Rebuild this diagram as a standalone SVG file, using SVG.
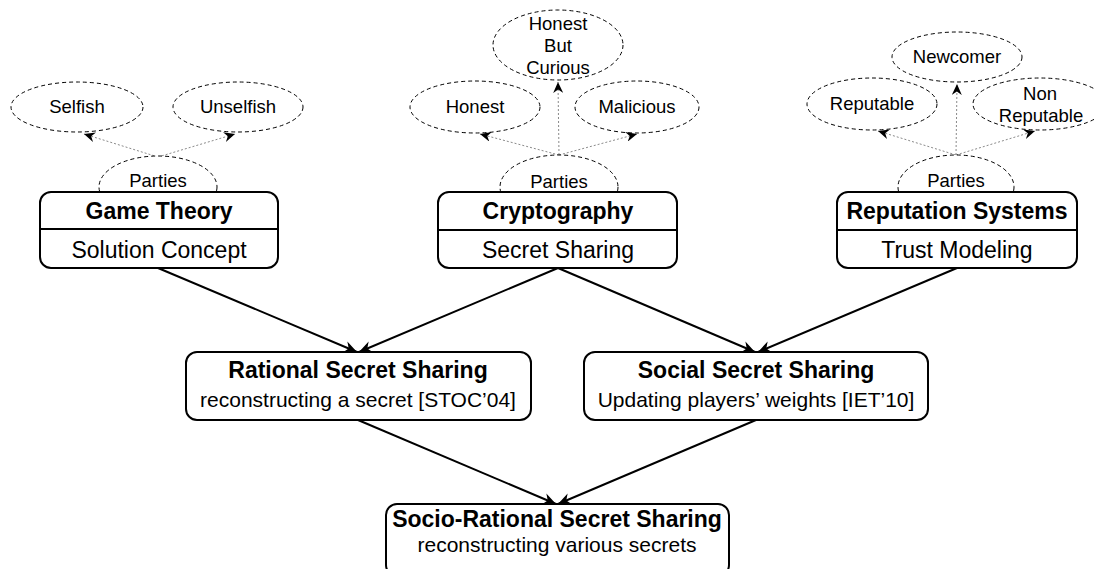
<svg xmlns="http://www.w3.org/2000/svg" width="1094" height="569" viewBox="0 0 1094 569">
<style>
text{font-family:"Liberation Sans",Arial,sans-serif;fill:#000;text-anchor:middle}
.el{fill:#fff;stroke:#000;stroke-width:1;stroke-dasharray:4,3}
.box{fill:#fff;stroke:#000;stroke-width:2}
.div{stroke:#000;stroke-width:2}
.t{font-size:23px;font-weight:bold}
.s{font-size:21px}
.s2{font-size:23px}
.e{font-size:18.5px}
.dot{stroke:#8a8a8a;stroke-width:1;stroke-dasharray:2,2;fill:none;marker-end:url(#sa)}
.arr{stroke:#000;stroke-width:2;fill:none;marker-end:url(#la)}
</style>
<defs>
<marker id="sa" markerUnits="userSpaceOnUse" markerWidth="12" markerHeight="10" refX="11" refY="5" orient="auto"><path d="M0,0 L11,5 L0,10 L3.5,5 z" fill="#000"/></marker>
<marker id="la" markerUnits="userSpaceOnUse" markerWidth="14" markerHeight="12" refX="13" refY="6" orient="auto"><path d="M0,0 L13,6 L0,12 L4,6 z" fill="#000"/></marker>
</defs>
<g id="n-selfish"><ellipse class="el" cx="77" cy="107" rx="66" ry="25"/><text class="e" x="77" y="113">Selfish</text></g>
<g id="n-unselfish"><ellipse class="el" cx="238" cy="107" rx="65" ry="25"/><text class="e" x="238" y="113">Unselfish</text></g>
<g id="n-honest"><ellipse class="el" cx="475" cy="107" rx="65" ry="26"/><text class="e" x="475" y="113">Honest</text></g>
<g id="n-hbc"><ellipse class="el" cx="558" cy="45" rx="65" ry="35"/><text class="e" x="558" y="30">Honest</text><text class="e" x="558" y="52">But</text><text class="e" x="558" y="74">Curious</text></g>
<g id="n-malicious"><ellipse class="el" cx="637" cy="107" rx="62" ry="26"/><text class="e" x="637" y="113">Malicious</text></g>
<g id="n-reputable"><ellipse class="el" cx="872" cy="104" rx="65" ry="26"/><text class="e" x="872" y="110">Reputable</text></g>
<g id="n-newcomer"><ellipse class="el" cx="957" cy="57" rx="65" ry="25"/><text class="e" x="957" y="63">Newcomer</text></g>
<g id="n-nonrep"><ellipse class="el" cx="1040" cy="104" rx="67" ry="26"/><text class="e" x="1040" y="100">Non</text><text class="e" x="1041" y="122">Reputable</text></g>
<g id="connectors">
<line class="dot" x1="158" y1="157" x2="84" y2="134"/>
<line class="dot" x1="158" y1="157" x2="235" y2="134"/>
<line class="dot" x1="559" y1="155" x2="480" y2="134"/>
<line class="dot" x1="559" y1="155" x2="558" y2="82"/>
<line class="dot" x1="559" y1="155" x2="637" y2="134"/>
<line class="dot" x1="956" y1="155" x2="878" y2="131"/>
<line class="dot" x1="956" y1="155" x2="957" y2="84"/>
<line class="dot" x1="956" y1="155" x2="1035" y2="131"/>
<line class="arr" x1="158" y1="268" x2="357" y2="352"/>
<line class="arr" x1="558" y1="268" x2="359" y2="352"/>
<line class="arr" x1="558" y1="268" x2="755" y2="352"/>
<line class="arr" x1="957" y1="268" x2="758" y2="352"/>
<line class="arr" x1="358" y1="420" x2="556" y2="504"/>
<line class="arr" x1="756" y1="420" x2="558" y2="504"/>
</g>
<g id="n-parties1"><ellipse class="el" cx="158" cy="187" rx="59" ry="31"/><text class="e" x="158" y="187">Parties</text></g>
<g id="n-parties2"><ellipse class="el" cx="559" cy="187" rx="59" ry="32"/><text class="e" x="559" y="188">Parties</text></g>
<g id="n-parties3"><ellipse class="el" cx="956" cy="187" rx="58" ry="32"/><text class="e" x="956" y="187">Parties</text></g>
<g id="n-game"><rect class="box" x="40" y="192" width="238" height="76" rx="11"/><line class="div" x1="40" y1="229" x2="278" y2="229"/><text class="t" x="159" y="219">Game Theory</text><text class="s2" x="159" y="258">Solution Concept</text></g>
<g id="n-crypto"><rect class="box" x="438" y="192" width="239" height="76" rx="11"/><line class="div" x1="438" y1="230" x2="677" y2="230"/><text class="t" x="558" y="219">Cryptography</text><text class="s2" x="558" y="258">Secret Sharing</text></g>
<g id="n-rep"><rect class="box" x="837" y="192" width="240" height="76" rx="11"/><line class="div" x1="837" y1="230" x2="1077" y2="230"/><text class="t" x="957" y="219">Reputation Systems</text><text class="s2" x="957" y="258">Trust Modeling</text></g>
<g id="n-rational"><rect class="box" x="186" y="352" width="345" height="68" rx="11"/><text class="t" x="358" y="378">Rational Secret Sharing</text><text class="s" x="358" y="407">reconstructing a secret [STOC’04]</text></g>
<g id="n-social"><rect class="box" x="584" y="352" width="344" height="68" rx="11"/><text class="t" x="756" y="378">Social Secret Sharing</text><text class="s" x="756" y="407">Updating players’ weights [IET’10]</text></g>
<g id="n-socio"><rect class="box" x="386" y="504" width="343" height="72" rx="11"/><text class="t" x="557" y="527">Socio-Rational Secret Sharing</text><text class="s" x="557" y="552">reconstructing various secrets</text></g>
</svg>
